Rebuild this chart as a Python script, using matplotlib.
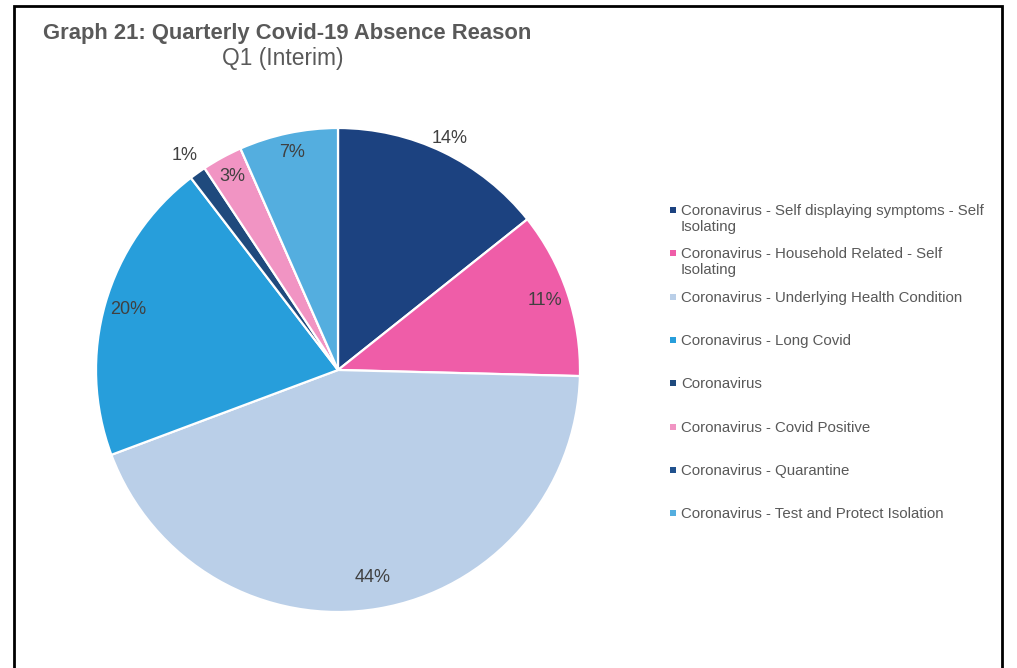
import matplotlib
matplotlib.use("Agg")
import matplotlib.pyplot as plt
from matplotlib.patches import Rectangle
import numpy as np

plt.rcParams['font.family'] = ['Liberation Sans', 'DejaVu Sans']

# Absence reasons (share of Covid-19 absence, %)
categories = [
    "Coronavirus - Self displaying symptoms - Self\nIsolating",
    "Coronavirus - Household Related - Self\nIsolating",
    "Coronavirus - Underlying Health Condition",
    "Coronavirus - Long Covid",
    "Coronavirus",
    "Coronavirus - Covid Positive",
    "Coronavirus - Quarantine",
    "Coronavirus - Test and Protect Isolation",
]
shares = [14.3, 11.1, 43.9, 20.3, 1.1, 2.7, 0.0, 6.6]
colors = ["#1C4280", "#EF5DA8", "#BACFE8", "#279EDB",
          "#1F4A7D", "#F194C3", "#20528E", "#54AEDF"]
# radial position of each percentage label (fraction of radius)
label_dist = [1.06, 0.90, 0.87, 0.90, 1.09, 0.91, 0.9, 0.92]

W, H = 1017, 668
fig = plt.figure(figsize=(W / 100, H / 100), dpi=100)

# outer frame
fig.add_artist(Rectangle((14 / W, -0.05), (1002 - 14) / W, 1.05 - 6 / H,
                         transform=fig.transFigure, fill=False,
                         edgecolor="black", linewidth=2.0, clip_on=False))

# titles
fig.text(287 / W, 1 - 34 / H, "Graph 21: Quarterly Covid-19 Absence Reason",
         ha="center", va="center", fontsize=15.8, fontweight="bold", color="#595959")
fig.text(283 / W, 1 - 59 / H, "Q1 (Interim)",
         ha="center", va="center", fontsize=16.4, color="#595959")

# pie
cx, cy, r = 338, 370, 242
ax = fig.add_axes([(cx - r) / W, (H - cy - r) / H, 2 * r / W, 2 * r / H])
wedges, _ = ax.pie(shares, colors=colors, startangle=90, counterclock=False,
                   radius=1.0, wedgeprops=dict(edgecolor="white", linewidth=1.6))
ax.set_xlim(-1, 1)
ax.set_ylim(-1, 1)
ax.set_aspect("equal")
ax.axis("off")

for w, v, d in zip(wedges, shares, label_dist):
    if round(v) == 0:
        continue
    mid = np.deg2rad((w.theta1 + w.theta2) / 2)
    ax.text(d * np.cos(mid), d * np.sin(mid), f"{v:.0f}%",
            ha="center", va="center", fontsize=13, color="#404040")

# legend
y0, step = 210, 43.3
for i, (lab, c) in enumerate(zip(categories, colors)):
    y = y0 + i * step
    fig.add_artist(Rectangle((670 / W, 1 - (y + 3) / H), 6 / W, 6 / H,
                             transform=fig.transFigure, facecolor=c,
                             edgecolor="none"))
    fig.text(681 / W, 1 - (y - 6) / H, lab, ha="left", va="top",
             fontsize=10.8, color="#595959", linespacing=1.15)

fig.savefig("out.png", dpi=100)
